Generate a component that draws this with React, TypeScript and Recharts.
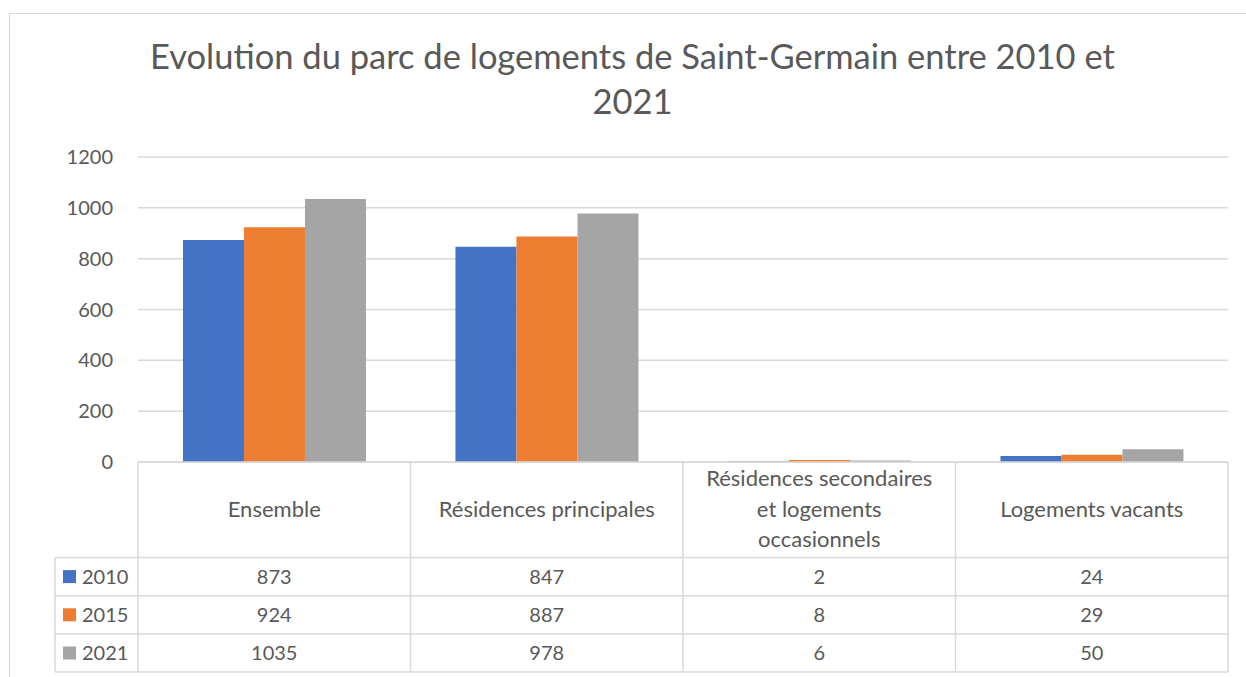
import React from "react";
import { BarChart, Bar, XAxis, YAxis, CartesianGrid } from "recharts";

const title = ["Evolution du parc de logements de Saint-Germain entre 2010 et", "2021"];
const categories = ["Ensemble", "Résidences principales", "Résidences secondaires et logements occasionnels", "Logements vacants"];
const categoryLines = [["Ensemble"], ["Résidences principales"], ["Résidences secondaires", "et logements", "occasionnels"], ["Logements vacants"]];
const years = ["2010", "2015", "2021"];
const values2010 = [873, 847, 2, 24];
const values2015 = [924, 887, 8, 29];
const values2021 = [1035, 978, 6, 50];
const yTicks = [0, 200, 400, 600, 800, 1000, 1200];

const colors = ["#4472C4", "#ED7D31", "#A5A5A5"];
const seriesValues = [values2010, values2015, values2021];

const data = categories.map((c, i) => ({
  name: c,
  y2010: values2010[i],
  y2015: values2015[i],
  y2021: values2021[i],
}));

const W = 1246;
const H = 677;
const PLOT_LEFT = 138;
const PLOT_RIGHT = 1228;
const PLOT_TOP = 157;
const PLOT_BOTTOM = 462;
const Y_AXIS_W = 60;
const BW = (PLOT_RIGHT - PLOT_LEFT) / categories.length;
const FONT = "Lato, 'Open Sans', sans-serif";
const TEXT = "#595959";
const LINE = "#d9d9d9";
const HEADER_H = 95.5;
const ROW_H = 38.2;
const LEGEND_LEFT = 55;

function TableTick(props: any) {
  const { x, y, payload } = props;
  const i = payload.index;
  const left = x - BW / 2;
  const right = x + BW / 2;
  const lines = categoryLines[i];
  const headerMid = y + HEADER_H / 2;
  const lh = 30.5;
  const rowTop = y + HEADER_H;
  const bottom = rowTop + ROW_H * years.length;
  const hLeft = i === 0 ? LEGEND_LEFT : left;
  return (
    <g>
      <line x1={left} y1={y} x2={left} y2={bottom} stroke={LINE} strokeWidth={1.5} />
      {i === categories.length - 1 && (
        <line x1={right} y1={y} x2={right} y2={bottom} stroke={LINE} strokeWidth={1.5} />
      )}
      {lines.map((ln, k) => (
        <text
          key={k}
          x={x}
          y={headerMid + (k - (lines.length - 1) / 2) * lh}
          dy={7}
          textAnchor="middle"
          fill={TEXT}
          fontSize={22}
          fontFamily={FONT}
        >
          {ln}
        </text>
      ))}
      {years.map((yr, r) => (
        <line key={"h" + r} x1={hLeft} y1={rowTop + r * ROW_H} x2={right} y2={rowTop + r * ROW_H} stroke={LINE} strokeWidth={1.5} />
      ))}
      <line x1={hLeft} y1={bottom} x2={right} y2={bottom} stroke={LINE} strokeWidth={1.5} />
      {i === 0 && (
        <line x1={LEGEND_LEFT} y1={rowTop} x2={LEGEND_LEFT} y2={bottom} stroke={LINE} strokeWidth={1.5} />
      )}
      {i === 0 &&
        years.map((yr, r) => (
          <g key={"lg" + r}>
            <rect x={63} y={rowTop + r * ROW_H + ROW_H / 2 - 6.5} width={13} height={13} fill={colors[r]} />
            <text x={82} y={rowTop + r * ROW_H + ROW_H / 2} dy={7} fill={TEXT} fontSize={20} fontFamily={FONT}>
              {yr}
            </text>
          </g>
        ))}
      {seriesValues.map((vals, r) => (
        <text
          key={"v" + r}
          x={x}
          y={rowTop + r * ROW_H + ROW_H / 2}
          dy={7}
          textAnchor="middle"
          fill={TEXT}
          fontSize={20}
          fontFamily={FONT}
        >
          {vals[i]}
        </text>
      ))}
    </g>
  );
}

export default function App() {
  return (
    <div style={{ position: "relative", width: W, height: H, overflow: "hidden", background: "#fff" }}>
      <style>{`body{margin:0;}`}</style>
      <div
        style={{
          position: "absolute",
          left: 9,
          top: 13,
          width: W + 50,
          height: H + 50,
          border: "1.5px solid #d9d9d9",
          boxSizing: "border-box",
        }}
      />
      <div
        style={{
          position: "absolute",
          left: 0,
          top: 33,
          width: 1265,
          textAlign: "center",
          fontFamily: FONT,
          fontSize: 34.5,
          lineHeight: "45px",
          color: TEXT,
        }}
      >
        {title.map((t, k) => (
          <div key={k}>{t}</div>
        ))}
      </div>
      <div style={{ position: "absolute", left: 0, top: 0 }}>
        <BarChart
          width={W}
          height={H}
          data={data}
          margin={{ top: PLOT_TOP, right: W - PLOT_RIGHT, bottom: 0, left: PLOT_LEFT - Y_AXIS_W }}
          barCategoryGap="16.5%"
          barGap={0}
        >
          <CartesianGrid vertical={false} stroke={LINE} strokeWidth={1.5} />
          <XAxis
            dataKey="name"
            height={H - PLOT_BOTTOM}
            interval={0}
            tickLine={false}
            tickSize={0}
            tickMargin={0}
            axisLine={{ stroke: LINE, strokeWidth: 1.5 }}
            tick={<TableTick />}
          />
          <YAxis
            width={Y_AXIS_W}
            domain={[0, 1200]}
            ticks={yTicks}
            axisLine={false}
            tickLine={false}
            tickSize={0}
            tickMargin={25}
            tick={{ fill: TEXT, fontSize: 20, fontFamily: FONT }}
          />
          <Bar dataKey="y2010" fill={colors[0]} isAnimationActive={false} />
          <Bar dataKey="y2015" fill={colors[1]} isAnimationActive={false} />
          <Bar dataKey="y2021" fill={colors[2]} isAnimationActive={false} />
        </BarChart>
      </div>
    </div>
  );
}
